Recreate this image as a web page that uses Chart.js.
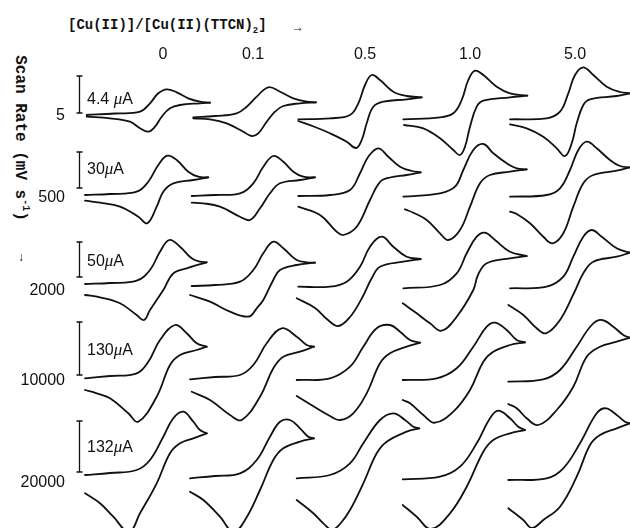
<!DOCTYPE html>
<html>
<head>
<meta charset="utf-8">
<script src="https://cdn.jsdelivr.net/npm/chart.js@4"></script>
<style>
  body { margin: 0; background: #fff; }
  #figure {
    position: relative; width: 630px; height: 528px; overflow: hidden;
    background: #fff; color: #111; font-family: "Liberation Sans", Arial, sans-serif;
  }
  #figure canvas { position: absolute; }
  .lbl { position: absolute; white-space: nowrap; font-size: 16px; line-height: 1; }
  .mu { font-family: "Liberation Serif", serif; font-style: italic; font-size: 17px; }
  .mono { font-family: "Liberation Mono", monospace; font-weight: bold; }
</style>
</head>
<body>
<div id="figure"></div>
<script>
// column / row labels
const ratios = ["0", "0.1", "0.5", "1.0", "5.0"];
const scanRates = ["5", "500", "2000", "10000", "20000"];
const currentScales = ["4.4 ", "30", "50", "130", "132"]; // followed by μA
// scale bar ends, in the panel's current units
const barLow = [67, 67, 68, 60, 58];
const barHigh = [104, 103, 103, 113, 109];

// voltammograms: [potential, current], forward sweep then reverse sweep
const fwd5 = [
  [[6.7,65],[35,66.5],[60,68.3],[70,76.7],[78.3,86.7],[86.7,90.7],[96.7,87.7],[108.3,81.7],[120,78.3],[130,77.3]],
  [[8.3,62.7],[30,64],[51.7,66.7],[61.7,73.3],[71.7,83.3],[83.3,92.7],[95,88.3],[108.3,81.7],[121.7,78.3],[131,77.7]],
  [[8.3,60.7],[40,61.7],[60,65],[68.3,76.7],[75,95],[81.7,105],[90,100],[103.3,88.3],[116.7,84],[131.7,82.7]],
  [[8.3,60.7],[45,62.7],[58.3,66.7],[66.7,80],[73.3,100],[80,109.3],[88.3,105],[101.7,93.3],[115,86.7],[132.3,84.3]],
  [[10,60.7],[46.7,61.7],[60,68.3],[68.3,86.7],[75,105],[83.3,112.7],[93.3,105],[106.7,93.3],[120,88],[130,86.7]]
];
const rev5 = [
  [[130,77.3],[120,76.7],[100,75],[90,71.7],[81.7,63.3],[75,53.3],[68.3,48.3],[60,51.7],[50,58.3],[30,61.7],[6.7,63.3]],
  [[131,77.7],[115,76.7],[98.3,74],[90,68.3],[81.7,58.3],[73.3,46.7],[66.7,44],[58.3,48.3],[41.7,56.7],[25,60.7],[8.3,61.7]],
  [[131.7,82.7],[116.7,80.7],[93.3,78.3],[83.3,73.3],[76.7,56.7],[71.7,40],[66,32],[56.7,38.3],[40,46.7],[25,53],[8.3,59]],
  [[132.3,84.3],[115,82.7],[88.3,79.3],[81.7,73.3],[75,53.3],[70,33.3],[65,25],[58.3,30],[45,41.7],[28.3,51.7],[9,55]],
  [[130,86.7],[116.7,84],[90,80.7],[83.3,75],[76.7,56.7],[71.7,36.7],[65,24],[56.7,31.7],[43.3,43.3],[26.7,51.7],[10,55.7]]
];

const fwd500 = [
  [[5,60],[30,61],[56.7,63.3],[68.3,73.3],[78.3,90],[87.3,99.3],[96.7,95],[108.3,83.3],[118.3,78.3],[128.3,77.7]],
  [[6.7,59],[30,60],[55,61.7],[68.3,71.7],[78.3,88.3],[88.3,99],[98.3,93.3],[108.3,83.3],[118.3,78.3],[130,77.7]],
  [[8.3,59],[40,60],[60,65],[70,81.7],[78.3,98.3],[88.3,106.7],[98.3,98.3],[110,88.3],[121.7,84],[130.7,82.7]],
  [[8.3,58.3],[45,61.7],[60,68.3],[68.3,85],[78.3,105],[88.3,111],[98.3,101.7],[111.7,91.7],[121.7,86.7],[131.7,85.7]],
  [[10,58.3],[46.7,60],[60,66.7],[70,85],[78.3,105],[86.7,113.3],[96.7,106.7],[110,95],[120,89],[130,87.7]]
];
const rev500 = [
  [[128.3,77.7],[113.3,75],[93.3,71.7],[83.3,63.3],[76.7,48.3],[67.3,31.7],[58.3,38.3],[40,48.3],[20,52.3],[5,54.3]],
  [[130,77.7],[115,75],[95,71.7],[85,61.7],[75,46.7],[65,35],[55,38.3],[35,48.3],[18.3,51.7],[6.7,52.3]],
  [[130.7,82.7],[116.7,80],[100,77.5],[90,73],[80,55],[66.7,28.3],[53.3,20],[46.7,23.3],[30,40],[8.3,48.3]],
  [[131.7,85.7],[115,83.3],[95,80],[85,71.7],[75,48.3],[65,25],[53.3,15],[45,21.7],[31.7,35],[18.3,42.3],[10,45.7]],
  [[130,87.7],[116.7,84.3],[93.3,80],[83.3,71.7],[73.3,48.3],[63.3,21.7],[52.7,11.7],[43.3,18.3],[30,31.7],[16.7,41],[10,43.3]]
];

const fwd2000 = [
  [[5,61],[30,62],[56.7,64.3],[70,75],[80,93.3],[89.3,105],[100,98.3],[111.7,86.7],[120,83.3],[126.7,82.7]],
  [[6.7,59],[30,60],[55,63.3],[68.3,75],[78.3,91.7],[88.3,103.3],[98.3,96.7],[111.7,85],[121.7,82.7],[130,82.3]],
  [[8.3,58.3],[40,58.3],[56.7,63.3],[70,78.3],[80,98.3],[91.7,108.3],[103.3,98.3],[116.7,88.3],[130.7,86]],
  [[8.3,56.7],[45,60],[61.7,71.7],[71.7,91.7],[81.7,108.3],[90,112.3],[100,105],[115,93.3],[131.7,89]],
  [[10,56.7],[46.7,58.3],[63.3,68.3],[73.3,88.3],[83.3,108.3],[91.7,115],[101.7,108.3],[116.7,96.7],[130,92.3]]
];
const rev2000 = [
  [[126.7,82.7],[106.7,76.7],[93.3,71.7],[83.3,55],[70,35],[64,25],[56.7,30],[40,41.7],[20,47.7],[5,50]],
  [[130,82.3],[111.7,80],[95,75],[88.3,65],[78.3,45],[71.7,36.7],[64,28.5],[45,33.3],[25,43.3],[5,50]],
  [[130.7,86],[113.3,83.3],[90,78.3],[81.7,66.7],[72,47],[60,28],[48.3,19],[38,25],[25,37],[6.7,46.7]],
  [[131.7,89],[115,86.7],[91.7,81.7],[83,70],[78.3,55],[61.7,28.3],[46.7,14.3],[35,21.7],[21.7,31.7],[7.7,41.7]],
  [[130,92.3],[116.7,88.3],[93.3,83.3],[83.3,71.7],[74,52],[60,25],[46,11.7],[36.7,16.7],[23.3,30],[8.3,40]]
];

const fwd10000 = [
  [[5,56.7],[30,59],[56.7,61.7],[68.3,73.3],[80,95],[95,110],[106.7,101.7],[116.7,91.7],[126.7,88.3]],
  [[5,55.7],[30,58],[55,60],[68.3,70],[81.7,91.7],[96.7,106.7],[111.7,98.3],[121.7,90],[129,88.3]],
  [[6.7,55],[40,56.7],[60,68.3],[73.3,88.3],[86.7,106.7],[100,110],[110,103.3],[120,95],[130,92.3]],
  [[7.7,55],[41.7,56.7],[61.7,66.7],[78.3,88.3],[91.7,108.3],[100,112.3],[111.7,105],[121.7,95],[130,92.7]],
  [[8.3,53.3],[43.3,55.7],[60,65],[76.7,88.3],[91.7,110],[101.7,115],[113.3,108.3],[123.3,100],[130,97.3]]
];
const rev10000 = [
  [[126.7,88.3],[116.7,85],[100,80],[90,70],[76.7,38.3],[58.3,13.3],[48.3,21.7],[30,36.7],[16.7,41.7],[5,45]],
  [[129,88.3],[115,83.3],[98.3,78.3],[88.3,66.7],[75,38.3],[56.7,15],[45,20],[25,35],[6.7,43.3]],
  [[130,92.3],[116.7,88.3],[100,81.7],[90,71.7],[76.7,41.7],[63.3,21.7],[50,15],[40,19],[26.7,26.7],[6.7,39]],
  [[130,92.7],[115,90],[98.3,83.3],[88.3,73.3],[75,45],[58.3,23.3],[40,12.3],[28.3,20],[15,31.7],[7.7,35]],
  [[130,97.3],[116.7,93.3],[100,88.3],[86.7,78.3],[73.3,48.3],[56.7,25],[38.3,10],[26.7,16.7],[16.7,26.7],[8.3,31]]
];

const fwd20000 = [
  [[5,55],[30,57],[56.7,60],[70,70],[83.3,93.3],[93.3,111.7],[103.3,118.3],[113.3,108.3],[120,100],[126.7,96.7]],
  [[5,51.7],[30,54],[55,56.7],[71.7,70],[85,93.3],[95,108.3],[105,110],[115,101.7],[123.3,93.3],[129,91.7]],
  [[6.7,51.7],[40,55],[60,66.7],[73.3,86.7],[90,110],[103.3,116.7],[115,110],[123.3,103.3],[129.3,101.7]],
  [[7.7,50.7],[45,53.3],[65,63.3],[81.7,86.7],[95,111.7],[103.3,119.3],[115,111.7],[123.3,103.3],[130,100]],
  [[8.3,50],[46.7,51.7],[63.3,61.7],[80,86.7],[96.7,116.7],[106,121.7],[116.7,115],[125,108.3],[130,106.7]]
];
const rev20000 = [
  [[126.7,96.7],[113.3,91.7],[100,86.7],[90,76.7],[76.7,46.7],[60,16.7],[49,-2],[33.3,13.3],[20,26.7],[5,36.7]],
  [[129,91.7],[115,88.3],[98.3,81.7],[88.3,70],[75,40],[60,10],[48.3,-2],[35,13.3],[18.3,30],[5,38.3]],
  [[129.3,101.7],[116.7,98.3],[96.7,88.3],[86.7,76.7],[73.3,46.7],[60,20],[50,6],[42,0],[33.3,6.7],[23.3,16.7],[6.7,30]],
  [[130,100],[115,96.7],[98.3,90],[88.3,78.3],[71.7,43.3],[55,16.7],[36,1],[21.7,13.3],[7.7,25]],
  [[130,106.7],[116.7,101.7],[100,95],[90,85],[76.7,53.3],[60,23.3],[43.3,10],[32,2],[23.3,10],[8.3,21.7]]
];

const forwardSweeps = [fwd5, fwd500, fwd2000, fwd10000, fwd20000];
const reverseSweeps = [rev5, rev500, rev2000, rev10000, rev20000];

// panel layout on the page
const colLeft = [70, 175, 280, 385, 490];
const rowTop = [50, 125, 215, 305, 400];
const panelW = 150, panelH = 130;
const ink = "#111";

const fig = document.getElementById("figure");

function addLabel(html, left, top, cls, transform) {
  const el = document.createElement("div");
  el.className = "lbl" + (cls ? " " + cls : "");
  el.innerHTML = html;
  el.style.left = left + "px";
  el.style.top = top + "px";
  el.style.transform = transform || "translate(-50%, -50%)";
  fig.appendChild(el);
  return el;
}

// draws the current scale bar on the first panel of each row
const scaleBarPlugin = {
  id: "scaleBar",
  afterDatasetsDraw(chart, args, opts) {
    if (!opts || opts.low === undefined) return;
    const { ctx, scales: { x, y } } = chart;
    const px = Math.round(x.getPixelForValue(opts.at)) + 0.5;
    const y1 = y.getPixelForValue(opts.low);
    const y2 = y.getPixelForValue(opts.high);
    ctx.save();
    ctx.strokeStyle = ink;
    ctx.lineWidth = 1.3;
    ctx.beginPath();
    ctx.moveTo(px, y1); ctx.lineTo(px, y2);
    ctx.moveTo(px - 3, y1); ctx.lineTo(px + 3, y1);
    ctx.moveTo(px - 3, y2); ctx.lineTo(px + 3, y2);
    ctx.stroke();
    ctx.restore();
  }
};

function toPoints(pairs) {
  return pairs.map(p => ({ x: p[0], y: p[1] }));
}

function sweep(pairs) {
  return {
    data: toPoints(pairs),
    showLine: true,
    borderColor: ink,
    borderWidth: 1.8,
    borderJoinStyle: "round",
    borderCapStyle: "round",
    pointRadius: 0,
    tension: 0.4,
    fill: false
  };
}

scanRates.forEach((rate, r) => {
  ratios.forEach((ratio, c) => {
    const canvas = document.createElement("canvas");
    canvas.width = panelW;
    canvas.height = panelH;
    canvas.style.left = colLeft[c] + "px";
    canvas.style.top = rowTop[r] + "px";
    fig.appendChild(canvas);

    new Chart(canvas, {
      type: "scatter",
      data: {
        datasets: [sweep(forwardSweeps[r][c]), sweep(reverseSweeps[r][c])]
      },
      options: {
        responsive: false,
        animation: false,
        devicePixelRatio: 1,
        events: [],
        layout: { padding: 0 },
        plugins: {
          legend: { display: false },
          tooltip: { enabled: false },
          scaleBar: c === 0 ? { at: -1.5, low: barLow[r], high: barHigh[r] } : {}
        },
        scales: {
          x: { type: "linear", min: -10, max: 140, display: false },
          y: { type: "linear", min: 0, max: 130, display: false }
        }
      },
      plugins: [scaleBarPlugin]
    });
  });
});

// title and axis labels
addLabel("[Cu(II)]/[Cu(II)(TTCN)<sub style='font-size:9px'>2</sub>]", 68, 27, "mono", "translate(0, -50%)").style.fontSize = "14px";
const arrowRight = addLabel("&rarr;", 298, 27, "", null);
arrowRight.style.fontSize = "12px";
arrowRight.style.fontWeight = "bold";

const colCenter = [163, 253, 365, 470, 575];
ratios.forEach((t, c) => addLabel(t, colCenter[c], 54));

const rowCenter = [115, 197, 290, 380, 482];
scanRates.forEach((t, r) => addLabel(t, 65, rowCenter[r], "", "translate(-100%, -50%)"));

const scaleCenter = [98, 168, 260, 349, 446];
currentScales.forEach((t, r) =>
  addLabel(t + "<span class='mu'>&mu;</span>A", 87, scaleCenter[r], "", "translate(0, -50%)"));

const yTitle = addLabel("Scan Rate (mV s<sup style='font-size:10px'>-1</sup>)", 21, 138, "mono",
  "translate(-50%, -50%) rotate(90deg)");
yTitle.style.fontSize = "16px";
const arrowDown = addLabel("&darr;", 21, 257, "", null);
arrowDown.style.fontSize = "12px";
arrowDown.style.fontWeight = "bold";
</script>
</body>
</html>
